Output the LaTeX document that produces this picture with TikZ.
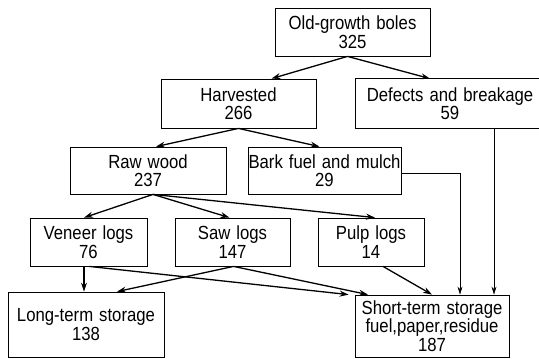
\documentclass[tikz,border=0pt]{standalone}
\usepackage{fontspec}
\setmainfont{Liberation Sans}[FakeStretch=0.88,WordSpace=1.3]
\usetikzlibrary{arrows.meta}

\tikzset{
  box/.style={draw, line width=0.8pt, align=center, inner sep=0pt,
    font=\fontsize{19}{18.5}\selectfont},
  flow/.style={-{Stealth[length=9pt,width=6pt]}, line width=1.3pt},
  feed/.style={-{Stealth[length=8pt,width=5pt]}, line width=0.7pt}
}

\begin{document}
\begin{tikzpicture}[x=1pt,y=-1pt]
  \useasboundingbox (0,0) rectangle (539,359);
  % boxes
  \node[box, minimum width=155pt, minimum height=48pt] (boles) at (352.5,32) {Old-growth boles\\325};
  \node[box, minimum width=155pt, minimum height=49pt] (harv) at (238.5,103.5) {Harvested\\266};
  \node[box, draw=none, minimum width=188pt, minimum height=49pt] (defects) at (450,103.5) {Defects and breakage\\59};
  \draw[line width=0.8pt] ([xshift=20pt]defects.north east) -- (defects.north west)
    -- (defects.south west) -- ([xshift=20pt]defects.south east);
  \node[box, minimum width=156pt, minimum height=47pt] (raw) at (148,170.5) {Raw wood\\237};
  \node[box, minimum width=153pt, minimum height=47pt] (bark) at (324.5,170.5) {Bark fuel and mulch\\29};
  \node[box, minimum width=117pt, minimum height=48pt] (veneer) at (88.5,242) {Veneer logs\\76};
  \node[box, minimum width=115pt, minimum height=48pt] (saw) at (232.5,242) {Saw logs\\147};
  \node[box, minimum width=106pt, minimum height=48pt] (pulp) at (371,242) {Pulp logs\\14};
  \node[box, minimum width=156pt, minimum height=65pt] (long) at (86,324.5) {Long-term storage\\138};
  \node[box, minimum width=154pt, minimum height=62pt] (short) at (432,326) {Short-term storage\\fuel,paper,residue\\187};
  % flows
  \draw[flow] ([xshift=-5pt]boles.south) -- ([xshift=33pt]harv.north);
  \draw[flow] ([xshift=-5pt]boles.south) -- ([xshift=-20pt]defects.north);
  \draw[flow] (harv.south) -- ([xshift=8pt]raw.north);
  \draw[flow] (harv.south) -- ([xshift=-5pt]bark.north);
  \draw[flow] ([xshift=5pt]raw.south) -- ([xshift=-4.5pt]veneer.north);
  \draw[flow] ([xshift=5pt]raw.south) -- ([xshift=-3pt]saw.north);
  \draw[flow] ([xshift=5pt]raw.south) -- ([xshift=4pt]pulp.north);
  \draw[flow] ([xshift=-4.5pt]veneer.south) -- ([xshift=-2pt]long.north);
  \draw[flow] ([xshift=0.5pt]veneer.south) -- ([xshift=-6pt]short.north west);
  \draw[flow] ([xshift=1pt]saw.south) -- ([xshift=31pt]long.north);
  \draw[flow] ([xshift=1pt]saw.south) -- ([xshift=-64pt]short.north);
  \draw[flow] ([xshift=12pt]pulp.south) -- (short.north);
  \draw[feed] ([yshift=-2.5pt]bark.east) -| ([xshift=28pt]short.north);
  \draw[feed] ([xshift=44pt]defects.south) -- ([xshift=62pt]short.north);
\end{tikzpicture}
\end{document}
